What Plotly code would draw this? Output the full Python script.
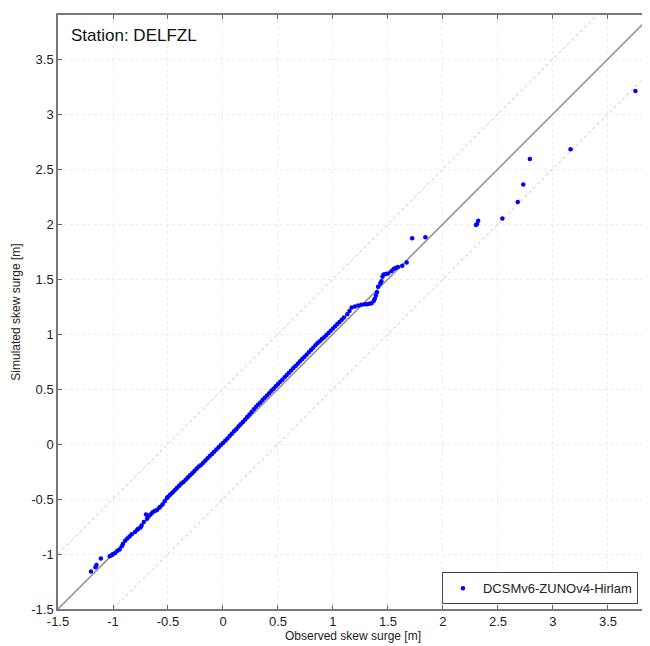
import plotly.graph_objects as go

# Observed / simulated skew surge quantiles [m]
obs = [-1.20, -1.16, -1.15, -1.11, -1.03, -1.01, -1.00, -0.98, -0.96, -0.94, -0.92, -0.91, -0.89, -0.87,
       -0.85, -0.83, -0.80, -0.78, -0.77, -0.75, -0.74, -0.72, -0.70, -0.69, -0.68, -0.66, -0.64, -0.62,
       -0.60, -0.58, -0.57, -0.55, -0.53, -0.51, -0.50,
       -0.48, -0.46, -0.44, -0.42, -0.40, -0.38, -0.36, -0.34, -0.32, -0.30, -0.28, -0.26, -0.24, -0.22,
       -0.20, -0.18, -0.16, -0.14, -0.12, -0.10, -0.08, -0.06, -0.04, -0.02, 0.00, 0.02, 0.04, 0.06,
       0.08, 0.10, 0.12, 0.14, 0.16, 0.18, 0.20, 0.22, 0.24, 0.26, 0.28, 0.30, 0.32, 0.34, 0.36, 0.38,
       0.40, 0.42, 0.44, 0.46, 0.48, 0.50, 0.52, 0.54, 0.56, 0.58, 0.60, 0.62, 0.64, 0.66, 0.68, 0.70,
       0.72, 0.74, 0.76, 0.78, 0.80, 0.82, 0.84, 0.86, 0.88, 0.90, 0.92, 0.94, 0.96, 0.98, 1.00, 1.02,
       1.04, 1.06, 1.08, 1.10, 1.13, 1.15, 1.17, 1.20, 1.23, 1.26, 1.29, 1.31, 1.33, 1.35, 1.37, 1.38,
       1.39, 1.40, 1.41, 1.43, 1.44, 1.45, 1.46, 1.48, 1.50, 1.53, 1.55, 1.57, 1.59, 1.63, 1.67, 1.72,
       1.84, 2.30, 2.31, 2.32, 2.54, 2.68, 2.73, 2.79, 3.16, 3.75]
sim = [-1.16, -1.12, -1.10, -1.04, -1.02, -1.01, -1.00, -0.99, -0.97, -0.96, -0.93, -0.91, -0.88, -0.86,
       -0.84, -0.82, -0.80, -0.78, -0.77, -0.76, -0.74, -0.71, -0.64, -0.68, -0.66, -0.64, -0.62, -0.61,
       -0.60, -0.58, -0.57, -0.55, -0.52, -0.49, -0.48,
       -0.46, -0.44, -0.42, -0.40, -0.38, -0.36, -0.345, -0.325, -0.305, -0.285, -0.265, -0.245, -0.225,
       -0.205, -0.19, -0.17, -0.15, -0.13, -0.11, -0.09, -0.07, -0.05, -0.03, -0.01, 0.01, 0.03, 0.05,
       0.072, 0.093, 0.115, 0.135, 0.158, 0.18, 0.20, 0.222, 0.245, 0.268, 0.29, 0.315, 0.338, 0.358,
       0.378, 0.40, 0.42, 0.44, 0.462, 0.483, 0.503, 0.525, 0.545, 0.565, 0.585, 0.606, 0.627, 0.648,
       0.668, 0.69, 0.71, 0.73, 0.752, 0.772, 0.79, 0.812, 0.835, 0.855, 0.875, 0.898, 0.918, 0.935,
       0.955, 0.97, 0.99, 1.01, 1.03, 1.05, 1.07, 1.09, 1.11, 1.13, 1.15, 1.18, 1.21, 1.24, 1.25, 1.26,
       1.265, 1.27, 1.27, 1.275, 1.28, 1.30, 1.32, 1.35, 1.38, 1.43, 1.46, 1.48, 1.52, 1.54, 1.545,
       1.55, 1.57, 1.59, 1.60, 1.61, 1.62, 1.65, 1.87, 1.88, 1.99, 2.00, 2.03, 2.05, 2.20, 2.36, 2.59,
       2.68, 3.21]

ref_x = [-2.0, 4.5]
offsets = [0.5, -0.5]
series_name = "DCSMv6-ZUNOv4-Hirlam"
station = "Station: DELFZL"
x_title = "Observed skew surge [m]"
y_title = "Simulated skew surge [m]"
ticks = [-1.5, -1, -0.5, 0, 0.5, 1, 1.5, 2, 2.5, 3, 3.5]
tick_text = ["-1.5", "-1", "-0.5", "0", "0.5", "1", "1.5", "2", "2.5", "3", "3.5"]

FONT = "Liberation Sans, Arial"

fig = go.Figure()
for off in offsets:
    fig.add_trace(go.Scatter(x=ref_x, y=[v + off for v in ref_x], mode="lines",
                             line=dict(color="#c4c4c4", width=1, dash="dot"),
                             showlegend=False, hoverinfo="skip"))
fig.add_trace(go.Scatter(x=ref_x, y=ref_x, mode="lines",
                         line=dict(color="#8a8a8a", width=1.5),
                         showlegend=False, hoverinfo="skip"))
fig.add_trace(go.Scatter(x=obs, y=sim, mode="markers", name=series_name,
                         marker=dict(color="#0000ff", size=4.5, line=dict(width=0))))

axis_common = dict(
    tickvals=ticks, ticktext=tick_text, ticks="inside", ticklen=4, tickcolor="#666666",
    showgrid=True, gridcolor="#ececec", griddash="dot", gridwidth=1,
    showline=True, linecolor="#777777", linewidth=1.5, mirror="ticks",
    zeroline=False, automargin=False,
    tickfont=dict(family=FONT, size=13, color="#222222"),
)
fig.update_xaxes(range=[-1.5, 3.864], title=dict(text=x_title, standoff=0,
                 font=dict(family=FONT, size=12, color="#222222")), **axis_common)
fig.update_yaxes(range=[-1.5, 3.9], title=dict(text=y_title, standoff=8,
                 font=dict(family=FONT, size=12, color="#222222")), **axis_common)

fig.add_annotation(text=station, xref="paper", yref="paper", x=0.018, y=0.985,
                   xanchor="left", yanchor="top", showarrow=False,
                   font=dict(family=FONT, size=17, color="#111111"))

fig.update_layout(
    width=642, height=638,
    margin=dict(l=50, r=2, t=7, b=37),
    paper_bgcolor="white", plot_bgcolor="white",
    showlegend=True,
    legend=dict(x=0.983, y=0.008, xanchor="right", yanchor="bottom",
                bgcolor="white", bordercolor="#444444", borderwidth=1,
                tracegroupgap=0, itemwidth=30,
                font=dict(family=FONT, size=13, color="#222222")),
)

fig.write_html("out.html")
